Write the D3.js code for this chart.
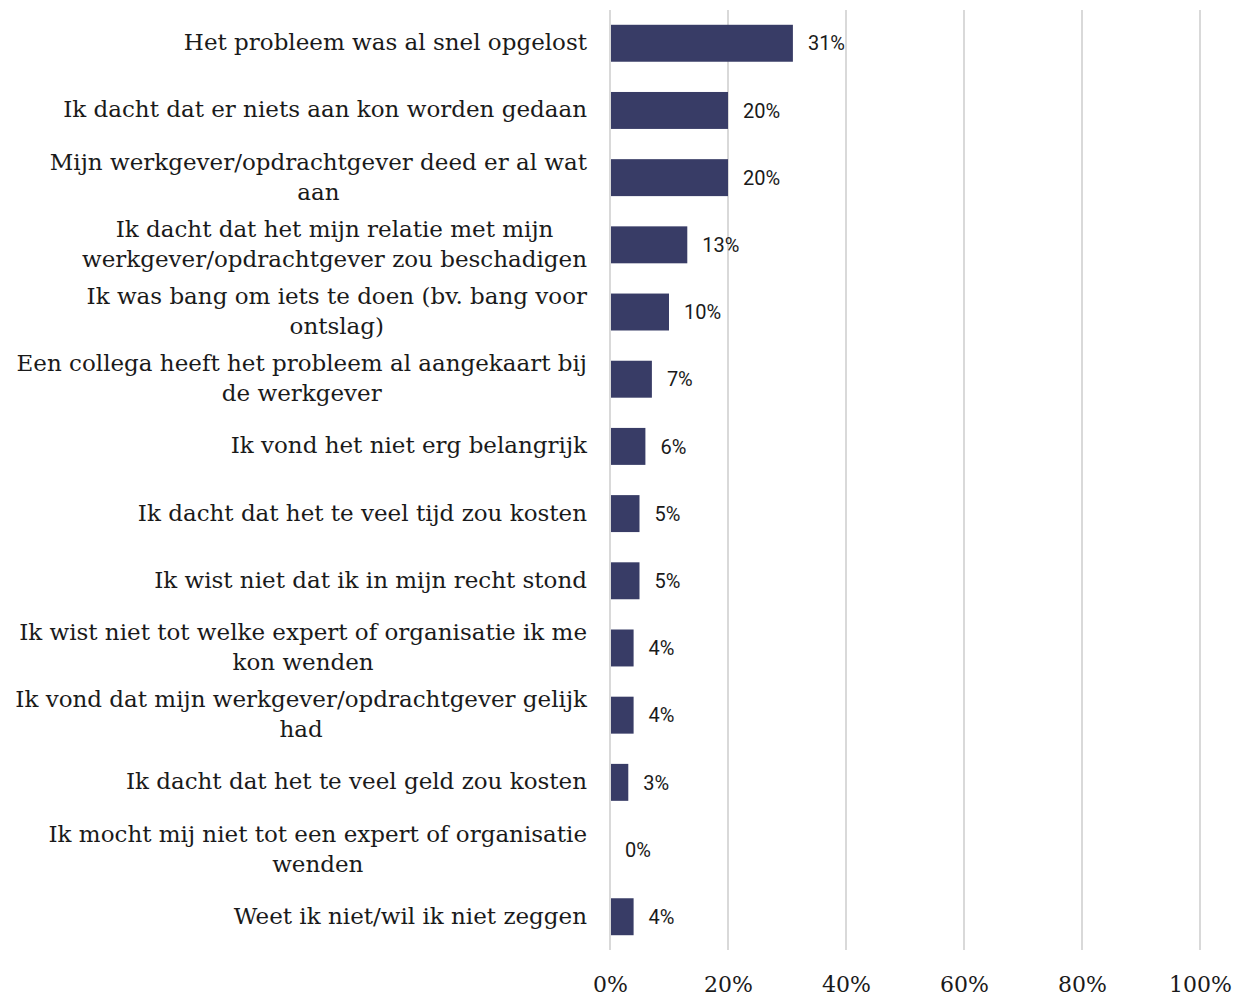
<!DOCTYPE html>
<html>
<head>
<meta charset="utf-8">
<script src="https://cdn.jsdelivr.net/npm/d3@7"></script>
<style>
  body { margin: 0; background: #fff; }
  .cat { font-family: "DejaVu Serif", serif; font-size: 23px; fill: #1a1a1a; }
  .val { font-family: Roboto, sans-serif; font-size: 20px; fill: #1a1a1a; }
  .x-axis text { font-family: "DejaVu Serif", serif; font-size: 22px; fill: #1a1a1a; }
</style>
</head>
<body>
<svg id="chart"></svg>
<script>
// categories, line breaks as in the original
const categories = [
  "Het probleem was al snel opgelost",
  "Ik dacht dat er niets aan kon worden gedaan",
  "Mijn werkgever/opdrachtgever deed er al wat|aan",
  "Ik dacht dat het mijn relatie met mijn|werkgever/opdrachtgever zou beschadigen",
  "Ik was bang om iets te doen (bv. bang voor|ontslag)",
  "Een collega heeft het probleem al aangekaart bij|de werkgever",
  "Ik vond het niet erg belangrijk",
  "Ik dacht dat het te veel tijd zou kosten",
  "Ik wist niet dat ik in mijn recht stond",
  "Ik wist niet tot welke expert of organisatie ik me|kon wenden",
  "Ik vond dat mijn werkgever/opdrachtgever gelijk|had",
  "Ik dacht dat het te veel geld zou kosten",
  "Ik mocht mij niet tot een expert of organisatie|wenden",
  "Weet ik niet/wil ik niet zeggen"
];
// shown percentage labels and bar values
const labels = [31, 20, 20, 13, 10, 7, 6, 5, 5, 4, 4, 3, 0, 4];
const values = [31, 20, 20, 13.1, 10, 7.1, 6, 5, 5, 4, 4, 3.1, 0, 4];
const xTicks = [0, 20, 40, 60, 80, 100];

const margin = {top: 10, right: 47, bottom: 46, left: 610};
const W = 1247, H = 996;
const width = W - margin.left - margin.right;
const height = H - margin.top - margin.bottom;
const labelRight = 587;

const svg = d3.select('#chart').attr('width', W).attr('height', H);
const g = svg.append('g').attr('transform', `translate(${margin.left},${margin.top})`);

const x = d3.scaleLinear().domain([0, 100]).range([0, width]);
const y = d3.scaleBand().domain(d3.range(categories.length)).range([0, height]).paddingInner(0.45).paddingOuter(0.22);

// gridlines
g.selectAll('.grid')
  .data(xTicks)
  .join('line')
  .attr('x1', d => x(d)).attr('x2', d => x(d))
  .attr('y1', 0).attr('y2', height)
  .attr('stroke', '#d9d9d9').attr('stroke-width', 2);

// x axis labels
const xAxis = d3.axisBottom(x).tickValues(xTicks).tickFormat(d => d + '%').tickSize(0).tickPadding(26);
g.append('g').attr('class', 'x-axis')
  .attr('transform', `translate(0,${height})`)
  .call(xAxis)
  .call(a => a.select('.domain').remove());

// bars
g.selectAll('.bar')
  .data(values)
  .join('rect')
  .attr('class', 'bar')
  .attr('x', x(0) + 1)
  .attr('y', (d, i) => y(i))
  .attr('width', d => Math.max(0, x(d) - x(0) - 1))
  .attr('height', y.bandwidth())
  .attr('fill', '#383c66');

// value labels
g.selectAll('.val')
  .data(values)
  .join('text')
  .attr('class', 'val')
  .attr('x', d => x(d) + 15)
  .attr('y', (d, i) => y(i) + y.bandwidth() / 2)
  .attr('dy', '0.36em')
  .text((d, i) => labels[i] + '%');

// category labels: block right-aligned, lines centred within block
const cats = svg.append('g').selectAll('text')
  .data(categories)
  .join('text')
  .attr('class', 'cat')
  .attr('text-anchor', 'middle')
  .attr('y', (d, i) => margin.top + y(i) + y.bandwidth() / 2);

cats.each(function(d) {
  const lines = d.split('|');
  const t = d3.select(this);
  const lh = 30;
  const spans = lines.map((ln, k) => t.append('tspan')
      .attr('dy', k === 0 ? (-(lines.length - 1) * lh / 2 + 7) + 'px' : lh + 'px')
      .text(ln));
  const maxW = d3.max(spans, s => s.node().getComputedTextLength());
  spans.forEach(s => s.attr('x', labelRight - maxW / 2));
});
</script>
</body>
</html>
